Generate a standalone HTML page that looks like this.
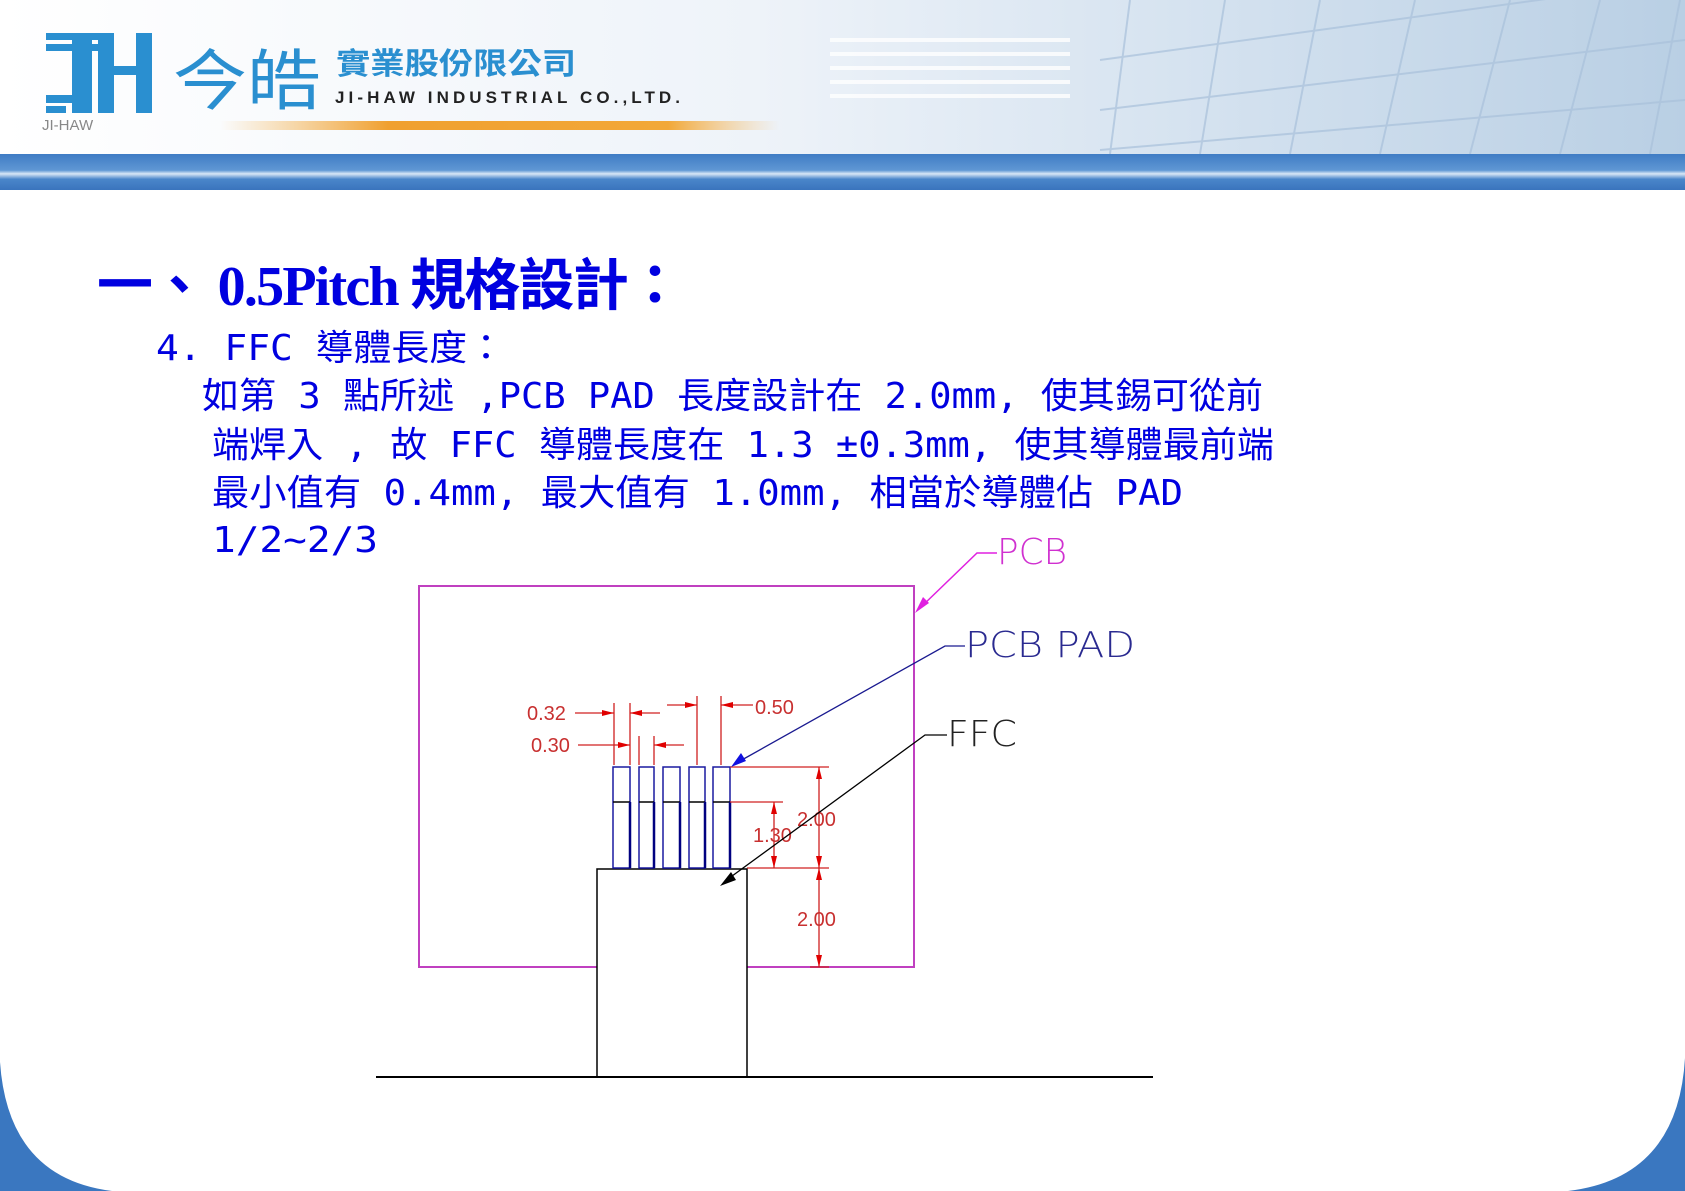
<!DOCTYPE html>
<html><head><meta charset="utf-8"><style>
html,body{margin:0;padding:0;background:#fff;}
svg{display:block}
</style></head><body>
<svg width="1685" height="1191" viewBox="0 0 1685 1191" xmlns="http://www.w3.org/2000/svg">
<defs>
<linearGradient id="hdr" x1="0" y1="0" x2="1" y2="0">
<stop offset="0" stop-color="#ffffff"/><stop offset="0.45" stop-color="#eef3f9"/><stop offset="0.7" stop-color="#d6e3f0"/><stop offset="1" stop-color="#b9cfe4"/>
</linearGradient>
<linearGradient id="bar" x1="0" y1="0" x2="0" y2="1">
<stop offset="0" stop-color="#3f7cc4"/><stop offset="0.45" stop-color="#5f97d4"/><stop offset="0.55" stop-color="#d8e7f6"/><stop offset="0.7" stop-color="#4a86ca"/><stop offset="1" stop-color="#3a74bd"/>
</linearGradient>
<linearGradient id="org" x1="0" y1="0" x2="1" y2="0">
<stop offset="0" stop-color="#f6b24a" stop-opacity="0"/><stop offset="0.3" stop-color="#f0a030"/><stop offset="0.8" stop-color="#f2a838"/><stop offset="1" stop-color="#f6c070" stop-opacity="0"/>
</linearGradient>
</defs>
<rect x="0" y="0" width="1685" height="154" fill="url(#hdr)"/>
<g stroke="#a9c1db" stroke-width="2" opacity="0.7">
<line x1="1110" y1="154" x2="1130" y2="0"/><line x1="1200" y1="154" x2="1225" y2="0"/><line x1="1290" y1="154" x2="1320" y2="0"/><line x1="1380" y1="154" x2="1415" y2="0"/><line x1="1470" y1="154" x2="1510" y2="0"/><line x1="1560" y1="154" x2="1600" y2="0"/><line x1="1650" y1="154" x2="1680" y2="0"/>
<line x1="1100" y1="60" x2="1685" y2="-20"/><line x1="1100" y1="110" x2="1685" y2="40"/><line x1="1100" y1="150" x2="1685" y2="100"/>
</g>
<g fill="#ffffff" opacity="0.8">
<rect x="830" y="38" width="240" height="4"/><rect x="830" y="52" width="240" height="4"/><rect x="830" y="66" width="240" height="4"/><rect x="830" y="80" width="240" height="4"/><rect x="830" y="94" width="240" height="4"/>
</g>
<rect x="0" y="154" width="1685" height="36" fill="url(#bar)"/>
<rect x="220" y="121" width="560" height="9" fill="url(#org)"/>
<!-- logo -->
<g fill="#2a8fd0">
<rect x="46" y="33" width="58" height="7"/><rect x="46" y="44" width="58" height="7"/><rect x="72" y="33" width="20" height="80"/>
<rect x="46" y="95" width="30" height="8"/><rect x="46" y="106" width="20" height="7"/>
<rect x="98" y="33" width="16" height="80"/><rect x="136" y="33" width="16" height="80"/><rect x="98" y="66" width="54" height="9"/>
</g>
<text x="42" y="130" font-family="Liberation Sans, sans-serif" font-size="15" fill="#888">JI-HAW</text>
<text x="173" y="104" font-family="Liberation Sans, 'Noto Sans CJK TC', sans-serif" font-size="66" fill="#2a8fd0" textLength="148" lengthAdjust="spacingAndGlyphs">今皓</text>
<text x="336" y="74" font-family="Liberation Sans, 'Noto Sans CJK TC', sans-serif" font-size="30" font-weight="bold" fill="#2a8fd0" textLength="240" lengthAdjust="spacingAndGlyphs">實業股份限公司</text>
<text x="335" y="103" font-family="Liberation Sans, sans-serif" font-size="17" font-weight="bold" fill="#222" textLength="345">JI-HAW INDUSTRIAL CO.,LTD.</text>
<!-- bottom corners -->
<path d="M0 1062 Q8 1178 112 1191 L0 1191 Z" fill="#3a77c0"/>
<path d="M1685 1058 Q1678 1178 1568 1191 L1685 1191 Z" fill="#3a77c0"/>
<!-- text -->
<g fill="#0000e0">
<text x="97" y="305" font-family="'Liberation Serif','Noto Sans CJK TC',serif" font-size="56" font-weight="bold" textLength="586">一、 0.5Pitch 規格設計：</text>
<g font-family="'DejaVu Sans Mono','Noto Sans CJK TC',monospace" font-size="36">
<text x="156" y="360" textLength="349" lengthAdjust="spacingAndGlyphs">4. FFC 導體長度：</text>
<text x="202" y="408" textLength="1061" lengthAdjust="spacingAndGlyphs">如第 3 點所述 ,PCB  PAD 長度設計在 2.0mm, 使其錫可從前</text>
<text x="212" y="457" textLength="1062" lengthAdjust="spacingAndGlyphs">端焊入 , 故 FFC 導體長度在 1.3 ±0.3mm, 使其導體最前端</text>
<text x="212" y="505" textLength="971" lengthAdjust="spacingAndGlyphs">最小值有 0.4mm, 最大值有 1.0mm, 相當於導體佔 PAD</text>
<text x="212" y="552" textLength="166" lengthAdjust="spacingAndGlyphs">1/2~2/3</text>
</g>
</g>
<!-- diagram -->
<rect x="419" y="586" width="495" height="381" fill="none" stroke="#c040c0" stroke-width="2"/>
<rect x="597" y="869" width="150" height="208" fill="#fff" stroke="#000" stroke-width="1.5"/>
<line x1="376" y1="1077" x2="1153" y2="1077" stroke="#000" stroke-width="2"/>
<!-- pads -->
<g stroke="#1a1aa0" stroke-width="1.5" fill="#fff">
<rect x="613" y="767" width="17" height="101"/><rect x="639" y="767" width="15" height="101"/><rect x="663" y="767" width="17" height="101"/><rect x="689" y="767" width="16" height="101"/><rect x="713" y="767" width="17" height="101"/>
</g>
<g stroke="#000" stroke-width="1.5">
<line x1="613" y1="802" x2="630" y2="802"/><line x1="639" y1="802" x2="654" y2="802"/><line x1="663" y1="802" x2="680" y2="802"/><line x1="689" y1="802" x2="705" y2="802"/><line x1="713" y1="802" x2="730" y2="802"/>
</g>
<g stroke="#000080" stroke-width="2.5">
<line x1="630" y1="802" x2="630" y2="868"/><line x1="654" y1="802" x2="654" y2="868"/><line x1="680" y1="802" x2="680" y2="868"/><line x1="705" y1="802" x2="705" y2="868"/><line x1="730" y1="802" x2="730" y2="868"/>
</g>
<!-- dimensions -->
<g stroke="#d02020" stroke-width="1.3" fill="none">
<line x1="614" y1="703" x2="614" y2="765"/><line x1="630" y1="703" x2="630" y2="765"/>
<line x1="639" y1="736" x2="639" y2="765"/><line x1="654" y1="736" x2="654" y2="765"/>
<line x1="697" y1="696" x2="697" y2="765"/><line x1="721" y1="696" x2="721" y2="765"/>
<line x1="575" y1="713" x2="614" y2="713"/><line x1="630" y1="713" x2="660" y2="713"/>
<line x1="578" y1="745" x2="630" y2="745"/><line x1="654" y1="745" x2="684" y2="745"/>
<line x1="667" y1="705" x2="697" y2="705"/><line x1="721" y1="705" x2="753" y2="705"/>
<line x1="730" y1="767" x2="829" y2="767"/><line x1="730" y1="802" x2="783" y2="802"/><line x1="747" y1="868" x2="829" y2="868"/><line x1="810" y1="967" x2="829" y2="967"/>
<line x1="819" y1="767" x2="819" y2="967"/><line x1="774" y1="802" x2="774" y2="868"/>
</g>
<g fill="#e00000">
<path d="M614 713 l-12 -3 v6z"/><path d="M630 713 l12 -3 v6z"/>
<path d="M630 745 l-12 -3 v6z"/><path d="M654 745 l12 -3 v6z"/>
<path d="M697 705 l-12 -3 v6z"/><path d="M721 705 l12 -3 v6z"/>
<path d="M819 767 l-3 12 h6z"/><path d="M819 868 l-3 -12 h6z"/><path d="M819 868 l-3 12 h6z"/><path d="M819 967 l-3 -12 h6z"/>
<path d="M774 802 l-3 12 h6z"/><path d="M774 868 l-3 -12 h6z"/>
</g>
<g font-family="'Liberation Sans',sans-serif" font-size="20" fill="#c83030">
<text x="527" y="720">0.32</text><text x="531" y="752">0.30</text><text x="755" y="714">0.50</text>
<text x="753" y="842">1.30</text><text x="797" y="826">2.00</text><text x="797" y="926">2.00</text>
</g>
<!-- leaders -->
<polyline points="997,553 977,553 920,608" fill="none" stroke="#e020e0" stroke-width="1.5"/>
<path d="M915 613 l8 -16 l6 6z" fill="#e020e0"/>
<polyline points="965,646 945,646 740,761" fill="none" stroke="#1a1a90" stroke-width="1.3"/>
<path d="M731 767 l10 -14 l5 8z" fill="#1010e0"/>
<polyline points="947,735 925,735 728,879" fill="none" stroke="#000" stroke-width="1.3"/>
<path d="M720 886 l11 -14 l5 8z" fill="#000"/>
<g font-family="'DejaVu Sans',sans-serif" font-size="36" font-weight="200">
<text x="997" y="564" fill="#d030d0" textLength="70" lengthAdjust="spacingAndGlyphs">PCB</text>
<text x="965" y="657" fill="#2a2a90" textLength="170" lengthAdjust="spacingAndGlyphs">PCB PAD</text>
<text x="947" y="746" fill="#222" textLength="70" lengthAdjust="spacingAndGlyphs">FFC</text>
</g>
</svg>
</body></html>
